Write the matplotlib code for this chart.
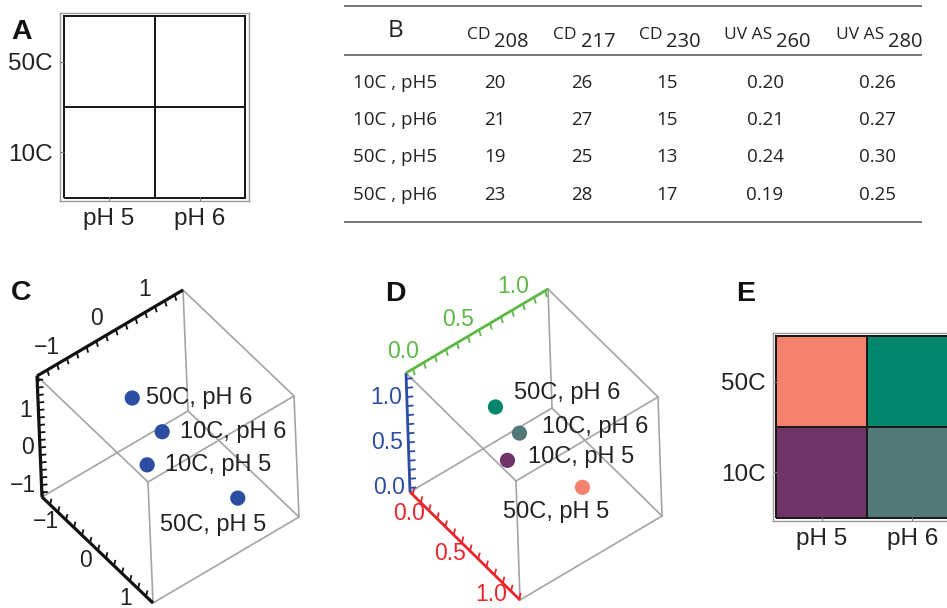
import numpy as np
import matplotlib
matplotlib.use("Agg")
import matplotlib.pyplot as plt
from matplotlib.colors import ListedColormap
from itertools import product

# ---------------- data ----------------
temps = ["10C", "50C"]
phs = ["pH 5", "pH 6"]

table_conditions = ["10C , pH5", "10C , pH6", "50C , pH5", "50C , pH6"]
header_main = ["CD", "CD", "CD", "UV AS", "UV AS"]
header_sub = ["208", "217", "230", "260", "280"]
cd208 = [20, 21, 19, 23]
cd217 = [26, 27, 25, 28]
cd230 = [15, 15, 13, 17]
uvas260 = [0.20, 0.21, 0.24, 0.19]
uvas280 = [0.26, 0.27, 0.30, 0.25]

sample_labels = ["50C, pH 6", "10C, pH 6", "10C, pH 5", "50C, pH 5"]
# panel C scores: axis 1 (lower-left edge), axis 2 (vertical), axis 3 (top edge)
score_ax1 = [-1.0, -0.1, 0.1, 1.0]
score_ax2 = [0.84, 0.95, 0.64, -0.17]
score_ax3 = [0.01, -0.11, -0.59, 0.50]
c_ranges = [(-1.60, 1.175), (-1.32, 1.91), (-1.41, 1.57)]
c_major = [-1, 0, 1]
# panel D normalized scores: red, blue (vertical), green (top)
norm_red = [0.00, 0.32, 0.44, 0.95]
norm_blue = [0.65, 0.66, 0.61, 0.55]
norm_green = [0.56, 0.54, 0.34, 0.64]
d_ranges = [(-0.232, 1.11), (-0.044, 1.264), (-0.063, 1.227)]
d_major = [0.0, 0.5, 1.0]
sample_colors = ["#00866A", "#527878", "#6F3569", "#F4826E"]

# ---------------- figure ----------------
W, H = 947, 608
plt.rcParams['font.family'] = ['Liberation Sans', 'DejaVu Sans']
fig = plt.figure(figsize=(W / 100, H / 100), dpi=100)
TXT = '#222222'


def rect(x0, y0, x1, y1):
    return [x0 / W, 1 - y1 / H, (x1 - x0) / W, (y1 - y0) / H]


ov = fig.add_axes([0, 0, 1, 1])
ov.set_xlim(0, W)
ov.set_ylim(H, 0)
ov.axis('off')


def grid_panel(pos, colors):
    ax = fig.add_axes(rect(*pos))
    idx = np.arange(4).reshape(2, 2)
    ax.pcolormesh(np.arange(3), np.arange(3), idx, cmap=ListedColormap(colors),
                  vmin=-0.5, vmax=3.5, edgecolors='#1a1a1a', linewidth=1.1)
    p = 0.0385
    ax.set_xlim(-p, 2 + p)
    ax.set_ylim(-p, 2 + p)
    ax.set_xticks([0.5, 1.5], phs)
    ax.set_yticks([0.5, 1.5], temps)
    for s in ax.spines.values():
        s.set_color('#9a9a9a')
        s.set_linewidth(1.0)
    ax.tick_params(direction='in', length=3, width=0.8, color='#777777',
                   labelsize=17.5, pad=5, labelcolor=TXT)
    return ax


# Panel A (empty layout grid)
grid_panel((60, 13, 249, 201), ['white'] * 4)

# Panel E (colored grid)
e_cols = []
for t in temps:
    for ph in phs:
        e_cols.append(sample_colors[sample_labels.index(f"{t}, {ph}")])
grid_panel((773, 333, 961, 521), e_cols)

# Panel letters
for letter, (x, y) in zip("ACDE", [(22, 32), (21, 293), (395, 294), (746, 294)]):
    ov.text(x, y, letter, fontsize=20.5, fontweight='bold', ha='center', va='center', color='#111111')

# Panel B (table)
TF = 'Open Sans'
col_cx = [495, 582, 667, 765, 877]
sub_shift = [0, 0, 0, 12, 12]
row_y = [83, 120, 157, 195]
ov.hlines([6, 55, 222], 344, 922, color='#6b6b6b', lw=1.3)
ov.text(395, 31, "B", fontsize=17.5, family=TF, ha='center', va='center', color=TXT)
for cx, sh, m, sb in zip(col_cx, sub_shift, header_main, header_sub):
    xs = cx + sh
    ov.text(xs - 5, 39, m, fontsize=12.5, family=TF, ha='right', va='baseline', color=TXT)
    ov.text(xs - 1, 47, sb, fontsize=14.5, family=TF, ha='left', va='baseline', color=TXT)
columns = [cd208, cd217, cd230, uvas260, uvas280]
for i, (cond, y) in enumerate(zip(table_conditions, row_y)):
    ov.text(353, y, cond, fontsize=13.5, family=TF, ha='left', va='center', color=TXT)
    for j, (col, cx) in enumerate(zip(columns, col_cx)):
        v = col[i]
        s = f"{v:.2f}" if isinstance(v, float) else str(v)
        ov.text(cx, y, s, fontsize=13.5, family=TF, ha='center', va='center', color=TXT)


def fmt(v):
    if isinstance(v, float):
        return f"{v:.1f}"
    return str(v).replace('-', '\u2212')


def cube_panel(origin, vecs, lims, axis_cols, axis_lw, step, major, pts, cols,
               lab_offsets, ticklen, label_cols, tick_label_offsets):
    origin = np.array(origin, float)
    vecs = np.array(vecs, float)
    lo = np.array([l[0] for l in lims])
    hi = np.array([l[1] for l in lims])

    def P(p):
        p = np.atleast_2d(np.asarray(p, float))
        return origin + ((p - lo) / (hi - lo)) @ vecs

    for c1 in product((0, 1), repeat=3):
        for k in range(3):
            if c1[k] == 0:
                c2 = list(c1)
                c2[k] = 1
                s = P([np.where(c1, hi, lo), np.where(c2, hi, lo)])
                ov.plot(s[:, 0], s[:, 1], color='#a4a4a4', lw=1.2, zorder=1,
                        solid_capstyle='round')
    starts = [lo.copy(), lo.copy(), np.array([lo[0], hi[1], lo[2]])]
    tdirs = [np.array([0.25, -1.0]), np.array([1.0, -0.1]), np.array([0.3, 1.0])]
    for k in range(3):
        st = starts[k]
        en = st.copy()
        en[k] = hi[k]
        s = P([st, en])
        ov.plot(s[:, 0], s[:, 1], color=axis_cols[k], lw=axis_lw, zorder=3,
                solid_capstyle='butt')
        d = tdirs[k] / np.linalg.norm(tdirs[k])
        n0 = int(np.ceil(lo[k] / step - 1e-9))
        n1 = int(np.floor(hi[k] / step + 1e-9))
        for n in range(n0, n1 + 1):
            p = st.copy()
            p[k] = n * step
            q = P(p)[0]
            ov.plot([q[0], q[0] + d[0] * ticklen], [q[1], q[1] + d[1] * ticklen],
                    color=axis_cols[k], lw=1.3, zorder=3, solid_capstyle='butt')
        for v in major:
            p = st.copy()
            p[k] = v
            q = P(p)[0]
            dx, dy, ha = tick_label_offsets[k]
            ov.text(q[0] + dx, q[1] + dy, fmt(v), fontsize=16.5, ha=ha, va='center',
                    color=label_cols[k])
    sp = P(np.array(pts).T)
    ov.scatter(sp[:, 0], sp[:, 1], s=120, c=cols, edgecolors='none', zorder=5)
    for (x, y), lab, (dx, dy, ha) in zip(sp, sample_labels, lab_offsets):
        ov.text(x + dx, y + dy, lab, fontsize=17, ha=ha, va='center', color=TXT, zorder=6)


# Panel C
cube_panel(origin=(42, 497), vecs=[(111, 106), (-5, -121), (146, -86)], lims=c_ranges,
           axis_cols=['#111111'] * 3, axis_lw=2.3, step=0.2, major=c_major,
           pts=[score_ax1, score_ax2, score_ax3], cols=['#2B4EA2'] * 4,
           lab_offsets=[(14, 0, 'left'), (18, 0, 'left'), (18, 0, 'left'), (-25, 27, 'center')],
           ticklen=6, label_cols=[TXT] * 3,
           tick_label_offsets=[(-20, 2, 'center'), (-6, 0, 'right'), (-10, -17, 'center')])

# Panel D
cube_panel(origin=(410, 492), vecs=[(110, 108), (-4, -119), (142, -84)], lims=d_ranges,
           axis_cols=['#E8262B', '#2C4DA3', '#5DB845'], axis_lw=2.0, step=0.1, major=d_major,
           pts=[norm_red, norm_blue, norm_green], cols=sample_colors,
           lab_offsets=[(19, -14, 'left'), (23, -6, 'left'), (21, -3, 'left'), (-79, 25, 'left')],
           ticklen=6.5, label_cols=['#E8262B', '#2C4DA3', '#5DB845'],
           tick_label_offsets=[(-20, 3, 'center'), (-5, 0, 'right'), (-10, -17, 'center')])

fig.savefig("out.png", dpi=100)
